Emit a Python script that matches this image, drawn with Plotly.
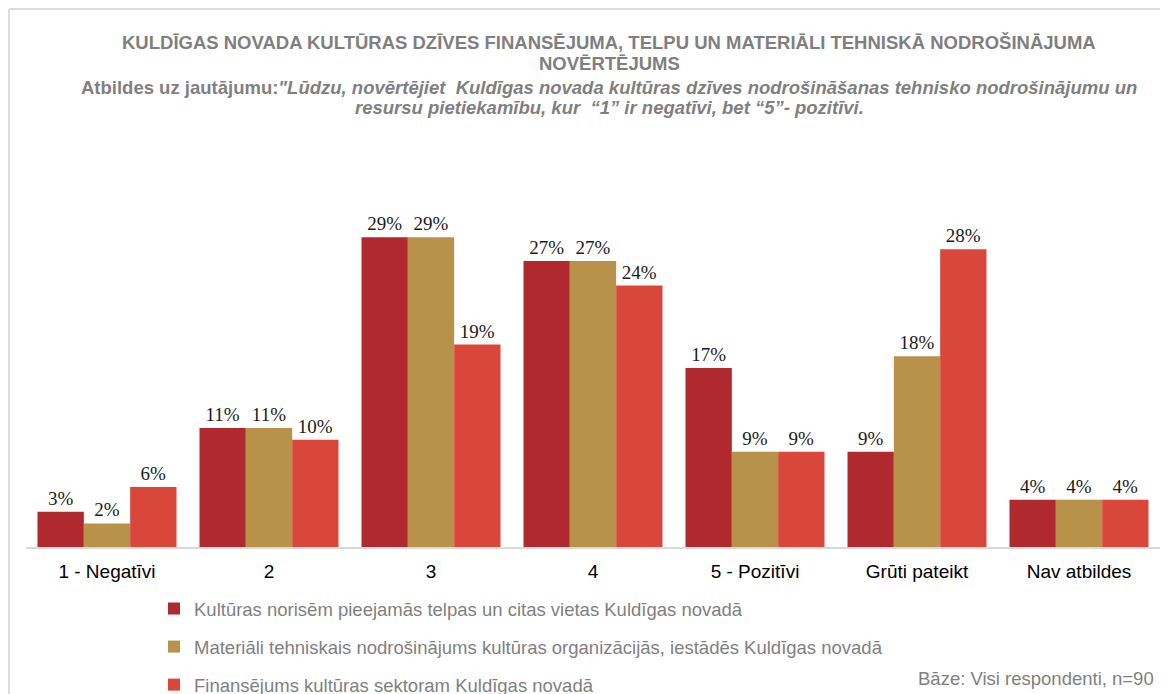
import plotly.graph_objects as go

categories = ["1 - Negatīvi", "2", "3", "4", "5 - Pozitīvi", "Grūti pateikt", "Nav atbildes"]
series_names = [
    "Kultūras norisēm pieejamās telpas un citas vietas Kuldīgas novadā",
    "Materiāli tehniskais nodrošinājums kultūras organizācijās, iestādēs Kuldīgas novadā",
    "Finansējums kultūras sektoram Kuldīgas novadā",
]
telpas = [3.3, 11.1, 28.9, 26.7, 16.7, 8.9, 4.4]
materiali = [2.2, 11.1, 28.9, 26.7, 8.9, 17.8, 4.4]
finansejums = [5.6, 10.0, 18.9, 24.4, 8.9, 27.8, 4.4]
colors = ["#AF292E", "#B8914B", "#D8473A"]

title_lines = [
    "KULDĪGAS NOVADA KULTŪRAS DZĪVES FINANSĒJUMA, TELPU UN MATERIĀLI TEHNISKĀ NODROŠINĀJUMA",
    "NOVĒRTĒJUMS",
]
subtitle_lines = [
    "<b>Atbildes uz jautājumu:</b><b><i>\"Lūdzu, novērtējiet  Kuldīgas novada kultūras dzīves nodrošināšanas tehnisko nodrošinājumu un</i></b>",
    "<b><i>resursu pietiekamību, kur  “1” ir negatīvi, bet “5”- pozitīvi.</i></b>",
]
base_note = "Bāze: Visi respondenti, n=90"

fig = go.Figure()
for i, (name, vals) in enumerate(zip(series_names, [telpas, materiali, finansejums])):
    fig.add_trace(go.Bar(
        x=categories, y=vals, name=name,
        marker=dict(color=colors[i], line=dict(width=0)),
        text=[f"{v:.0f}%" for v in vals],
        textposition="outside",
        textfont=dict(family="Liberation Serif", size=19, color="#1a1a1a"),
        cliponaxis=False,
        legendgroup=f"g{i}",
    ))

# page body has an 8px margin: figure origin sits at screen (8, 8)
OFF = 8
FW, FH = 1168, 730
L, R, T, B = 18, 16, 164, 191
W = FW - L - R
H = FH - T - B

def px_x(sx):
    return (sx - OFF - L) / W

def px_y(sy):
    return (FH - B - (sy - OFF)) / H

SANS = "Liberation Sans, Arial"
GRAY = "#7F7F7F"

fig.update_layout(
    width=FW, height=FH,
    margin=dict(l=L, r=R, t=T, b=B),
    paper_bgcolor="white", plot_bgcolor="white",
    barmode="group", bargap=0.142, bargroupgap=0,
    font=dict(family=SANS, color=GRAY),
    showlegend=True,
    legend=dict(
        x=px_x(154), y=px_y(590), xanchor="left", yanchor="top",
        font=dict(size=18.5, color=GRAY, family=SANS),
        tracegroupgap=11, traceorder="grouped", bgcolor="rgba(0,0,0,0)",
    ),
    xaxis=dict(
        showgrid=False, showline=True, linecolor="#D9D9D9", linewidth=1.5,
        ticks="outside", ticklen=6, tickcolor="rgba(0,0,0,0)",
        tickfont=dict(size=19, color="#000000", family=SANS),
    ),
    yaxis=dict(range=[0, 35], visible=False, showgrid=False, zeroline=False),
)

for txt, yc in zip(title_lines, [42, 63]):
    fig.add_annotation(
        text=txt, xref="paper", yref="paper", x=px_x(609), y=px_y(yc),
        xanchor="center", yanchor="middle", showarrow=False,
        font=dict(size=18.5, color=GRAY, family=SANS, weight="bold"),
    )
for txt, yc in zip(subtitle_lines, [87, 107]):
    fig.add_annotation(
        text=txt, xref="paper", yref="paper", x=px_x(609), y=px_y(yc),
        xanchor="center", yanchor="middle", showarrow=False,
        font=dict(size=18.5, color=GRAY, family=SANS),
    )
fig.add_annotation(
    text=base_note, xref="paper", yref="paper", x=px_x(1156), y=px_y(678),
    xanchor="right", yanchor="middle", showarrow=False,
    font=dict(size=18.5, color=GRAY, family=SANS),
)

# outer frame lines (left and top), at the figure's own edge
fig.add_shape(type="line", xref="paper", yref="paper",
              x0=px_x(9), x1=px_x(9), y0=px_y(9), y1=px_y(736),
              line=dict(color="#D0D0D0", width=1.5))
fig.add_shape(type="line", xref="paper", yref="paper",
              x0=px_x(9), x1=px_x(1176), y0=px_y(9), y1=px_y(9),
              line=dict(color="#D0D0D0", width=1.5))

fig.write_html("out.html")
